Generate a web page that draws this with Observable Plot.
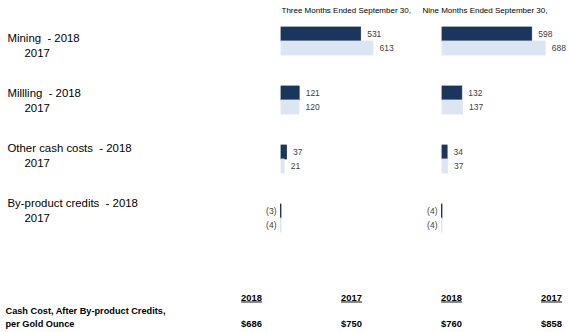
<!DOCTYPE html>
<html><head><meta charset="utf-8">
<script src="https://cdn.jsdelivr.net/npm/d3@7"></script>
<script src="https://cdn.jsdelivr.net/npm/@observablehq/plot@0.6"></script>
<style>
body{margin:0;background:#fff;}
#chart{position:relative;width:569px;}
#chart svg{display:block;}
#chart svg.overlay{position:absolute;left:0;top:0;background:transparent;}
svg text{white-space:pre;}
</style></head><body><div id="chart"></div>
<script>
const periods = ["Three Months Ended September 30,", "Nine Months Ended September 30,"];
const categories = ["Mining", "Milling", "Other cash costs", "By-product credits"];
const categoryLabels = ["Mining  - 2018", "Millling  - 2018", "Other cash costs  - 2018", "By-product credits  - 2018"];
const years = ["2018", "2017"];
const threeMonths2018 = [531, 121, 37, -3];
const threeMonths2017 = [613, 120, 21, -4];
const nineMonths2018 = [598, 132, 34, -4];
const nineMonths2017 = [688, 137, 37, -4];
const totalColumns = ["Three 2018", "Three 2017", "Nine 2018", "Nine 2017"];
const totalYears = ["2018", "2017", "2018", "2017"];
const totalValues = [686, 750, 760, 858];
const totalLabel = "Cash Cost, After By-product Credits,\nper Gold Ounce";

const SANS = "'Liberation Sans',Arial,sans-serif";

const series = [[threeMonths2018, threeMonths2017], [nineMonths2018, nineMonths2017]];
const rows = [];
periods.forEach((p, pi) => categories.forEach((c, ci) => years.forEach((y, yi) => {
  rows.push({period: p, category: c, year: y, value: series[pi][yi][ci]});
})));
const fmt = v => v < 0 ? `(${-v})` : `${v}`;

const headerRows = periods.map(p => ({period: p, category: categories[0]}));

const main = Plot.plot({
  width: 569, height: 280,
  marginLeft: 281, marginRight: 7, marginTop: 26, marginBottom: 48,
  style: {fontFamily: SANS, background: "#fff"},
  fx: {domain: periods, paddingInner: 0.2547, paddingOuter: 0, axis: null},
  fy: {domain: categories, paddingInner: 0.5085, paddingOuter: 0, axis: null},
  x: {domain: [0, 800], axis: null},
  y: {domain: years, padding: 0, axis: null},
  color: {domain: years, range: ["#1b365d", "#dce6f2"]},
  marks: [
    Plot.barX(rows, {x: "value", y: "year", fx: "period", fy: "category", fill: "year", stroke: "year", strokeWidth: 0.8}),
    Plot.text(rows.filter(d => d.value >= 0), {x: "value", y: "year", fx: "period", fy: "category", text: d => fmt(d.value), textAnchor: "start", dx: 6, fontSize: 8.5, fill: "#404040"}),
    Plot.text(rows.filter(d => d.value < 0), {x: 0, y: "year", fx: "period", fy: "category", text: d => fmt(d.value), textAnchor: "end", dx: -5, fontSize: 8.5, fill: "#404040"}),
    Plot.text(headerRows.slice(0, 1), {fx: "period", fy: "category", text: "period", frameAnchor: "top-left", textAnchor: "start", lineAnchor: "middle", dy: -16, fontSize: 8, letterSpacing: -0.35, fill: "#000"}),
    Plot.text(headerRows.slice(1), {fx: "period", fy: "category", text: "period", frameAnchor: "top-left", textAnchor: "start", lineAnchor: "middle", dx: -20, dy: -16, fontSize: 8, letterSpacing: -0.35, fill: "#000"})
  ]
});

// category labels on the left
const labelRows = categories.map((c, i) => ({category: c, label: categoryLabels[i]}));
const labels = Plot.plot({
  width: 280, height: 280,
  marginLeft: 7, marginRight: 0, marginTop: 37, marginBottom: 76,
  style: {fontFamily: SANS, background: "transparent"},
  x: {axis: null},
  y: {type: "point", domain: categories, padding: 0, axis: null},
  marks: [
    Plot.text(labelRows, {y: "category", text: "label", frameAnchor: "left", textAnchor: "start", fontSize: 11.4, fill: "#000"}),
    Plot.text(labelRows, {y: "category", text: () => years[1], frameAnchor: "left", textAnchor: "start", dx: 17, dy: 14.5, fontSize: 11.4, fill: "#000"})
  ]
});
labels.classList.add("overlay");

const totals = totalColumns.map((c, i) => ({column: c, year: totalYears[i], value: totalValues[i]}));
const bottom = Plot.plot({
  width: 569, height: 52,
  marginLeft: 250, marginRight: 18, marginTop: 17, marginBottom: 9,
  style: {fontFamily: SANS, background: "#fff"},
  x: {type: "point", domain: totalColumns, padding: 0, axis: null},
  y: {type: "point", domain: ["year", "value"], padding: 0, axis: null},
  marks: [
    Plot.text(totals, {x: "column", y: () => "year", text: "year", fontWeight: "bold", fontSize: 9.4, letterSpacing: -0.3, fill: "#000", ariaLabel: "years"}),
    Plot.text(totals, {x: "column", y: () => "value", text: d => "$" + d.value, fontWeight: "bold", fontSize: 9.4, letterSpacing: -0.3, fill: "#000"}),
    Plot.text([totalLabel], {frameAnchor: "left", text: d => d, textAnchor: "start", lineAnchor: "middle", dx: -245, dy: 6, lineHeight: 1.45, fontWeight: "bold", fontSize: 9.2, letterSpacing: -0.35, fill: "#000"})
  ]
});
const groups = bottom.querySelectorAll('g[aria-label="text"]');
let yg = bottom.querySelector('g[aria-label="years"]') || groups[0];
yg.querySelectorAll("text").forEach(t => t.setAttribute("text-decoration", "underline"));

document.getElementById("chart").append(main, bottom, labels);
</script>
</body></html>
